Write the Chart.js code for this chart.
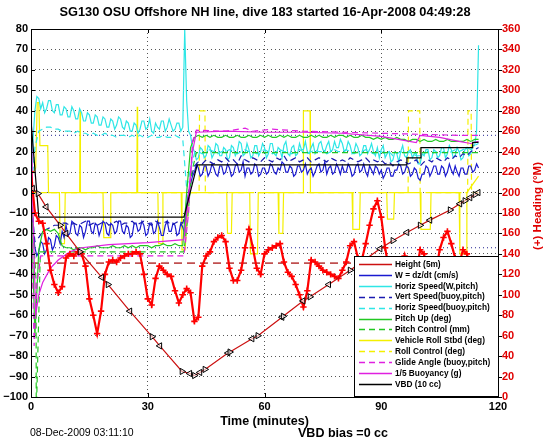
<!DOCTYPE html>
<html>
<head>
<meta charset="utf-8">
<script src="https://cdn.jsdelivr.net/npm/chart.js@4"></script>
<style>
html, body { margin: 0; padding: 0; background: #fff; }
#wrap { width: 546px; height: 442px; }
</style>
</head>
<body>
<div id="wrap"><canvas id="diveChart" width="546" height="442"></canvas></div>
<script>
// heading, one sample per minute, t = 0 .. 115
const headingDeg = [
  220, 180, 172, 170, 150, 124, 110, 102, 108, 136,
  140, 138, 142, 140, 128, 96, 80, 62, 84, 120,
  132, 134, 132, 136, 138, 140, 140, 142, 140, 120,
  96, 90, 116, 128, 124, 120, 118, 104, 92, 100,
  106, 102, 74, 78, 128, 138, 142, 152, 156, 158,
  152, 126, 114, 114, 124, 146, 164, 146, 126, 120,
  140, 144, 146, 148, 150, 132, 122, 118, 110, 100,
  88, 104, 134, 132, 128, 124, 122, 120, 118, 116,
  124, 132, 148, 152, 136, 134, 150, 168, 184, 192,
  176, 146, 124, 108, 104, 120, 138, 120, 104, 122,
  144, 140, 116, 104, 120, 144, 156, 162, 150, 136,
  130, 144, 140, 124, 116, 110
];
// W and horizontal speed, one sample per half minute, t = 0 .. 115
const wSpeed = [
  -4, -18, -27, -31, -29, -24, -25, -30, -28, -22, -23, -28, -26, -21, -22, -25, -19, -22, -16, -21,
  -20, -14, -15, -20, -21, -16, -17, -22, -19, -14,
  -14, -19, -20, -15, -16, -21, -18, -14, -15, -20,
  -21, -15, -16, -20, -19, -14, -14, -19, -20, -16,
  -17, -22, -21, -15, -15, -19, -18, -14, -16, -21,
  -20, -15, -15, -20, -19, -14, -17, -21, -21, -16,
  -14, -19, -19, -15, -16, -21, -20, -15, -17, -20,
  -6, 0, 4, 8, 10, 14, 12, 8, 9, 13,
  13, 8, 10, 14, 12, 9, 8, 13, 13, 9,
  10, 14, 12, 8, 9, 13, 14, 10, 11, 15,
  8, 12, 12, 9, 10, 14, 13, 8, 9, 12,
  12, 9, 10, 14, 13, 10, 9, 12, 11, 15,
  14, 10, 10, 13, 12, 8, 9, 13, 13, 10,
  11, 14, 9, 11, 12, 8, 10, 13, 14, 10,
  11, 15, 9, 12, 13, 9, 10, 14, 12, 9,
  13, 10, 10, 14, 12, 8, 9, 13, 14, 10,
  11, 14, 10, 8, 13, 11, 9, 13, 12, 9,
  11, 7, 9, 12, 12, 8, 8, 11, 11, 14,
  13, 9, 10, 13, 12, 8, 9, 12, 11, 7,
  6, 9, 9, 13, 12, 8, 10, 13, 13, 9,
  9, 13, 12, 8, 10, 14, 11, 9, 13, 10,
  8, 12, 12, 9, 9, 13, 13, 10, 11, 14,
  12
];
const horizSpeedW = [
  6, 25, 40, 47, 46, 41, 44, 39, 41, 45, 45, 40, 39, 43, 43, 38, 38, 42, 41, 37,
  37, 42, 40, 36, 36, 41, 39, 35, 35, 39,
  38, 34, 34, 38, 37, 33, 33, 37, 36, 32,
  32, 36, 35, 31, 33, 37, 36, 32, 31, 35,
  34, 30, 30, 34, 33, 29, 31, 35, 35, 31,
  32, 36, 30, 29, 34, 32, 31, 35, 35, 30,
  32, 36, 33, 30, 31, 34, 34, 30, 32, 80,
  45, 30, 28, 22, 20, 16, 17, 22, 21, 17,
  18, 23, 22, 17, 19, 24, 23, 18, 18, 22,
  21, 16, 17, 23, 22, 18, 20, 25, 24, 18,
  19, 24, 21, 17, 18, 23, 23, 18, 20, 24,
  22, 17, 19, 24, 24, 19, 18, 22, 21, 17,
  23, 25, 19, 18, 22, 23, 18, 19, 24, 21,
  21, 25, 20, 19, 22, 24, 19, 20, 24, 25,
  21, 20, 23, 25, 20, 21, 25, 22, 22, 26,
  24, 20, 21, 25, 23, 19, 20, 24, 22, 18,
  19, 23, 23, 19, 21, 24, 20, 18, 22, 17,
  21, 23, 17, 19, 20, 15, 16, 20, 19, 15,
  20, 23, 18, 17, 20, 21, 17, 19, 19, 14,
  14, 19, 18, 21, 21, 16, 17, 21, 20, 17,
  18, 22, 22, 17, 19, 23, 21, 17, 18, 22,
  20, 16, 17, 21, 22, 18, 19, 23, 23, 30,
  72
];
// one sample per minute, t = 0 .. 115
const vertSpeedBuoy = [
  -2, -24, -22, -19, -18, -17, -16, -16, -15, -15,
  -16, -15, -16, -15, -14, -16, -15, -16, -15, -14,
  -16, -15, -14, -16, -15, -15, -14, -16, -15, -14,
  -15, -16, -14, -15, -15, -14, -16, -15, -14, -15,
  -8, 6, 13, 15, 14, 16, 15, 14, 16, 15,
  17, 15, 16, 14, 18, 16, 15, 17, 16, 15,
  17, 16, 15, 17, 16, 18, 15, 16, 17, 15,
  16, 17, 15, 16, 17, 16, 15, 17, 16, 15,
  16, 15, 17, 16, 15, 16, 17, 15, 16, 15,
  16, 14, 15, 13, 15, 16, 15, 14, 15, 16,
  13, 15, 16, 15, 17, 16, 15, 17, 16, 18,
  17, 19, 18, 20, 21, 22
];
const horizSpeedBuoy = [
  0, 22, 30, 31, 32, 32, 31, 31, 30, 30,
  30, 29, 30, 29, 29, 28, 29, 28, 28, 29,
  28, 28, 27, 28, 28, 27, 28, 27, 28, 27,
  27, 28, 27, 27, 28, 27, 27, 28, 27, 26,
  2, 12, 19, 20, 19, 20, 21, 20, 19, 20,
  20, 21, 20, 19, 20, 21, 20, 20, 19, 20,
  21, 20, 19, 20, 21, 20, 20, 19, 20, 21,
  20, 19, 20, 21, 20, 20, 19, 20, 21, 20,
  20, 21, 20, 19, 20, 20, 21, 20, 19, 20,
  20, 19, 20, 18, 19, 20, 19, 20, 19, 18,
  18, 19, 20, 19, 20, 19, 20, 19, 20, 21,
  20, 21, 22, 21, 23, 24
];
const pitchUp = [
  0, -70, -28, -19, -18, -19, -18, -20, -26, -27,
  -27, -28, -27, -27, -28, -27, -27, -26, -27, -27,
  -27, -26, -27, -27, -26, -27, -26, -27, -26, -26,
  -26, -27, -26, -26, -25, -26, -26, -25, -26, -26,
  0, 22, 27, 28, 27, 28, 27, 28, 27, 27,
  28, 27, 27, 28, 27, 27, 28, 27, 27, 28,
  27, 28, 27, 27, 28, 27, 28, 27, 27, 28,
  27, 27, 28, 27, 28, 27, 27, 28, 27, 28,
  28, 27, 28, 27, 27, 28, 27, 27, 26, 27,
  26, 27, 26, 26, 27, 26, 26, 25, 26, 26,
  25, 26, 25, 25, 26, 25, 25, 26, 25, 25,
  25, 25, 26, 25, 26, 26
];

// irregularly sampled series (time in minutes)
const pitchCtrlTime = [0, 1.3, 1.35, 2.4, 39.3, 40.3, 41.3, 42.5, 115];
const pitchCtrl = [0, -43, -110, -29, -29, -12, 10, 19.5, 19.5];

const rollTime = [0, 1.2, 1.6, 2.0, 2.3, 4.3, 4.5, 7.3, 7.5, 8.6, 8.8, 12.5, 12.6, 12.7, 18.5, 18.7, 20.3, 20.5,
  27.2, 27.3, 27.4, 32.6, 32.8, 33.7, 33.9, 38.6, 38.8, 39.6, 40.5, 50.3, 50.5, 51.5, 51.7, 56.2, 56.4, 58.2, 58.4,
  63.5, 63.7, 64.7, 64.9, 69.9, 70.0, 71.7, 71.8, 82.5, 82.7, 84.4, 84.6, 91.4, 91.6, 93.2, 93.4,
  100.0, 100.2, 102.6, 102.8, 110.0, 110.2, 111.8, 112.0, 115];
const roll = [8, 12, 44, 44, 23, 23, 0, 0, -25, -25, 0, 0, 40, 0, 0, -22, -22, 0,
  0, 42, 0, 0, -25, -25, 0, 0, -28, -28, 0, 0, -20, -20, 0, 0, -30, -30, 0,
  0, -20, -20, 0, 0, 40, 40, 0, 0, -18, -18, 0, 0, -13, -13, 0,
  0, -18, -18, 0, 0, -30, -30, 0, 8];

const rollCtrlTime = [0, 43.2, 43.3, 44.7, 44.8, 96.9, 97.0, 99.9, 100.0, 112.2, 112.3, 113.1, 113.2, 115];
const rollCtrl = [0, 0, 40, 40, 0, 0, 40, 40, 0, 0, 40, 40, 0, 0];

const glideTime = [0, 0.8, 1.5, 2.5, 15, 30, 39.3, 40.5, 41.5, 42.5, 50, 55, 57, 62, 70, 80, 90, 100, 110, 115];
const glide = [-5, -75, -45, -31, -31, -31, -31, -10, 25, 30.5, 30, 31.5, 30, 31, 30, 29.5, 29, 28.5, 28, 28];

const buoyTime = [0, 0.5, 1.2, 2, 3, 5, 7, 10, 13, 20, 30, 39.3, 40.3, 41.5, 42.5, 50, 60, 70, 80, 90, 99, 100, 105, 110, 113, 115];
const buoy = [48, -10, -60, -50, -44, -37, -33, -29, -27, -25.5, -24.5, -23, -5, 20, 29.5, 30, 29.5, 29.5, 29, 27.5, 24.5, 28, 27, 25, 24, 25];

const vbdTime = [0, 2, 39.3, 42.7, 96.6, 96.6, 100.2, 100.2, 113.5, 113.5, 115];
const vbd = [35, -12, -12, 13.5, 13.5, 17, 17, 22, 22, 24.5, 24.5];

const heightTime = [0.4, 1.8, 3.9, 7.5, 9.0, 12.6, 18.2, 19.8, 25.4, 31.1, 33.1, 38.8, 40.8, 42.0, 43.4,
  44.7, 50.6, 51.1, 56.8, 58.3, 64.5, 64.8, 69.9, 71.7, 76.5, 82.0, 89.7, 93.0, 96.6, 100.0, 102.5,
  107.7, 110.2, 111.5, 112.8, 114.1, 114.9];
const height = [2, -0.5, -7, -16, -20, -29, -41.5, -45, -58, -70.5, -75, -87.5, -88.5, -89.5, -88,
  -86.5, -78.5, -78, -71.5, -70, -61, -60.5, -53, -51, -45, -38, -27.5, -23.5, -19.5, -16, -13.5,
  -8.5, -5.5, -4, -2.5, -1, 0];

const targetHeading = 131;
const speedRefs = [28, -27];

const seriesLabels = ['Height (5m)', 'W = dz/dt (cm/s)', 'Horiz Speed(W,pitch)', 'Vert Speed(buoy,pitch)',
  'Horiz Speed(buoy,pitch)', 'Pitch Up (deg)', 'Pitch Control (mm)', 'Vehicle Roll Stbd (deg)',
  'Roll Control (deg)', 'Glide Angle (buoy,pitch)', '1/5 Buoyancy (g)', 'VBD (10 cc)'];

const FONT = '"Liberation Sans", Arial, Helvetica, sans-serif';

function pts(xs, ys) {
  return ys.map((y, i) => ({ x: xs[i], y: y }));
}
function everyStep(ys, step) {
  return ys.map((y, i) => ({ x: i * step, y: y }));
}

function line(label, data, color, order, dash, width) {
  return {
    label: label, data: data, borderColor: color, backgroundColor: color,
    borderWidth: width || 1.2, borderDash: dash || [], pointRadius: 0,
    fill: false, tension: 0, order: order, yAxisID: 'y'
  };
}

const legendStyle = [
  { color: '#cc1010', dash: [] },
  { color: '#1a1ad0', dash: [] },
  { color: '#2ee6e6', dash: [] },
  { color: '#1a1ab0', dash: [6, 4] },
  { color: '#2ee6e6', dash: [6, 4] },
  { color: '#22c822', dash: [] },
  { color: '#22c822', dash: [6, 4] },
  { color: '#f4f000', dash: [] },
  { color: '#f4f000', dash: [6, 4] },
  { color: '#e020e0', dash: [6, 4] },
  { color: '#e020e0', dash: [] },
  { color: '#000000', dash: [] }
];

const datasets = [
  Object.assign(line(seriesLabels[0], pts(heightTime, height), legendStyle[0].color, 0), {
    pointRadius: 3.6, pointStyle: 'triangle', pointBorderColor: '#000', pointBorderWidth: 1,
    pointBackgroundColor: 'rgba(255,255,255,0.6)',
    pointRotation: c => (c.dataIndex % 2 ? 90 : -90)
  }),
  Object.assign(line('Heading', everyStep(headingDeg, 1), '#ff0000', 1, [], 2.2), {
    yAxisID: 'y2', pointRadius: 3.2, pointStyle: 'cross', pointBorderColor: '#ff0000', pointBorderWidth: 1.6
  }),
  line(seriesLabels[11], pts(vbdTime, vbd), legendStyle[11].color, 2),
  line(seriesLabels[10], pts(buoyTime, buoy), legendStyle[10].color, 3),
  line(seriesLabels[9], pts(glideTime, glide), legendStyle[9].color, 4, legendStyle[9].dash),
  line(seriesLabels[5], everyStep(pitchUp, 1), legendStyle[5].color, 5),
  line(seriesLabels[6], pts(pitchCtrlTime, pitchCtrl), legendStyle[6].color, 6, legendStyle[6].dash),
  line(seriesLabels[3], everyStep(vertSpeedBuoy, 1), legendStyle[3].color, 7, legendStyle[3].dash),
  line(seriesLabels[1], everyStep(wSpeed, 0.5), legendStyle[1].color, 8),
  line(seriesLabels[2], everyStep(horizSpeedW, 0.5), legendStyle[2].color, 9),
  line(seriesLabels[4], everyStep(horizSpeedBuoy, 1), legendStyle[4].color, 10, legendStyle[4].dash),
  line(seriesLabels[7], pts(rollTime, roll), legendStyle[7].color, 11),
  line(seriesLabels[8], pts(rollCtrlTime, rollCtrl), legendStyle[8].color, 12, legendStyle[8].dash),
  Object.assign(line('target heading', [{ x: 0, y: targetHeading }, { x: 120, y: targetHeading }], '#c05050', 13, [8, 5], 1.8), { yAxisID: 'y2' }),
  line('ref up', [{ x: 0, y: speedRefs[0] }, { x: 120, y: speedRefs[0] }], '#202090', 14, [1, 3], 1),
  line('ref down', [{ x: 0, y: speedRefs[1] }, { x: 120, y: speedRefs[1] }], '#202090', 14, [1, 3], 1)
];

const minus = v => String(v).replace('-', '\u2212');

const matlabDecor = {
  id: 'matlabDecor',
  afterDatasetsDraw(chart) {
    const ctx = chart.ctx;
    const a = chart.chartArea;
    const ys = chart.scales.y, xs = chart.scales.x;
    ctx.save();
    ctx.strokeStyle = '#000';
    ctx.lineWidth = 1;
    ctx.setLineDash([]);
    ctx.beginPath();
    for (let v = -100; v <= 80; v += 10) {
      const py = Math.round(ys.getPixelForValue(v)) + 0.5;
      ctx.moveTo(a.left, py); ctx.lineTo(a.left + 4, py);
      ctx.moveTo(a.right, py); ctx.lineTo(a.right + 4, py);
    }
    for (let v = 30; v < 120; v += 30) {
      const px = Math.round(xs.getPixelForValue(v)) + 0.5;
      ctx.moveTo(px, a.bottom); ctx.lineTo(px, a.bottom - 4);
      ctx.moveTo(px, a.top); ctx.lineTo(px, a.top + 4);
    }
    ctx.stroke();
    ctx.strokeRect(Math.round(a.left) + 0.5, Math.round(a.top) + 0.5,
      Math.round(a.right - a.left), Math.round(a.bottom - a.top));

    // legend box
    const lx = 354, ly = 256, lw = 498 - 354, lh = 396 - 256;
    ctx.fillStyle = '#fff';
    ctx.fillRect(lx, ly, lw, lh);
    ctx.strokeRect(lx + 0.5, ly + 0.5, lw, lh);
    ctx.font = 'bold 8.3px ' + FONT;
    ctx.textBaseline = 'middle';
    ctx.textAlign = 'left';
    seriesLabels.forEach((lab, i) => {
      const y = 264 + i * 10.9;
      ctx.strokeStyle = legendStyle[i].color;
      ctx.lineWidth = 1.6;
      ctx.setLineDash(legendStyle[i].dash);
      ctx.beginPath();
      ctx.moveTo(359, Math.round(y) + 0.5);
      ctx.lineTo(392, Math.round(y) + 0.5);
      ctx.stroke();
      ctx.setLineDash([]);
      ctx.fillStyle = '#000';
      ctx.fillText(lab, 395, y + 0.5);
    });
    ctx.restore();
  },
  afterDraw(chart) {
    const ctx = chart.ctx;
    ctx.save();
    ctx.fillStyle = '#000';
    ctx.textBaseline = 'middle';
    ctx.textAlign = 'center';
    ctx.font = 'bold 12.8px ' + FONT;
    ctx.fillText('SG130 OSU Offshore NH line, dive 183 started 16-Apr-2008 04:49:28', 265, 12);
    ctx.font = 'bold 12.5px ' + FONT;
    ctx.fillText('VBD bias =0 cc', 343, 434);
    ctx.textAlign = 'left';
    ctx.font = '10.5px ' + FONT;
    ctx.fillText('08-Dec-2009 03:11:10', 30, 433);
    ctx.translate(538, 206);
    ctx.rotate(-Math.PI / 2);
    ctx.textAlign = 'center';
    ctx.fillStyle = '#e00000';
    ctx.font = 'bold 11.5px ' + FONT;
    ctx.fillText('(+) Heading (\u00b0M)', 0, 0);
    ctx.restore();
  }
};

const gridColor = (lo, hi) => c => (c.tick && (c.tick.value === lo || c.tick.value === hi)) ? 'rgba(0,0,0,0)' : '#555';

new Chart(document.getElementById('diveChart'), {
  type: 'line',
  data: { datasets: datasets },
  options: {
    responsive: false,
    devicePixelRatio: 1,
    animation: false,
    layout: { padding: { top: 29, bottom: 13, left: 0, right: 0 } },
    plugins: { legend: { display: false }, tooltip: { enabled: false }, title: { display: false } },
    scales: {
      x: {
        type: 'linear', min: 0, max: 120,
        afterFit: s => { s.height = 442 - 13 - 397; },
        ticks: { stepSize: 30, color: '#000', font: { family: FONT, weight: 'bold', size: 11 }, padding: 3, maxRotation: 0, autoSkip: false },
        grid: { color: gridColor(0, 120), drawTicks: false, lineWidth: 1 },
        border: { display: false, dash: [1, 3] },
        title: { display: true, text: 'Time (minutes)', color: '#000', font: { family: FONT, weight: 'bold', size: 12.5 }, padding: { top: 0, bottom: 0 } }
      },
      y: {
        position: 'left', min: -100, max: 80,
        afterFit: s => { s.width = 31; },
        ticks: { stepSize: 10, color: '#000', font: { family: FONT, weight: 'bold', size: 11 }, padding: 3, callback: v => minus(v) },
        grid: { color: gridColor(-100, 80), drawTicks: false, lineWidth: 1 },
        border: { display: false, dash: [1, 3] }
      },
      y2: {
        position: 'right', min: 0, max: 360,
        afterFit: s => { s.width = 48; },
        ticks: { stepSize: 20, color: '#e00000', font: { family: FONT, weight: 'bold', size: 11 }, padding: 4 },
        grid: { drawOnChartArea: false, drawTicks: false },
        border: { display: false }
      }
    }
  },
  plugins: [matlabDecor]
});
</script>
</body>
</html>
